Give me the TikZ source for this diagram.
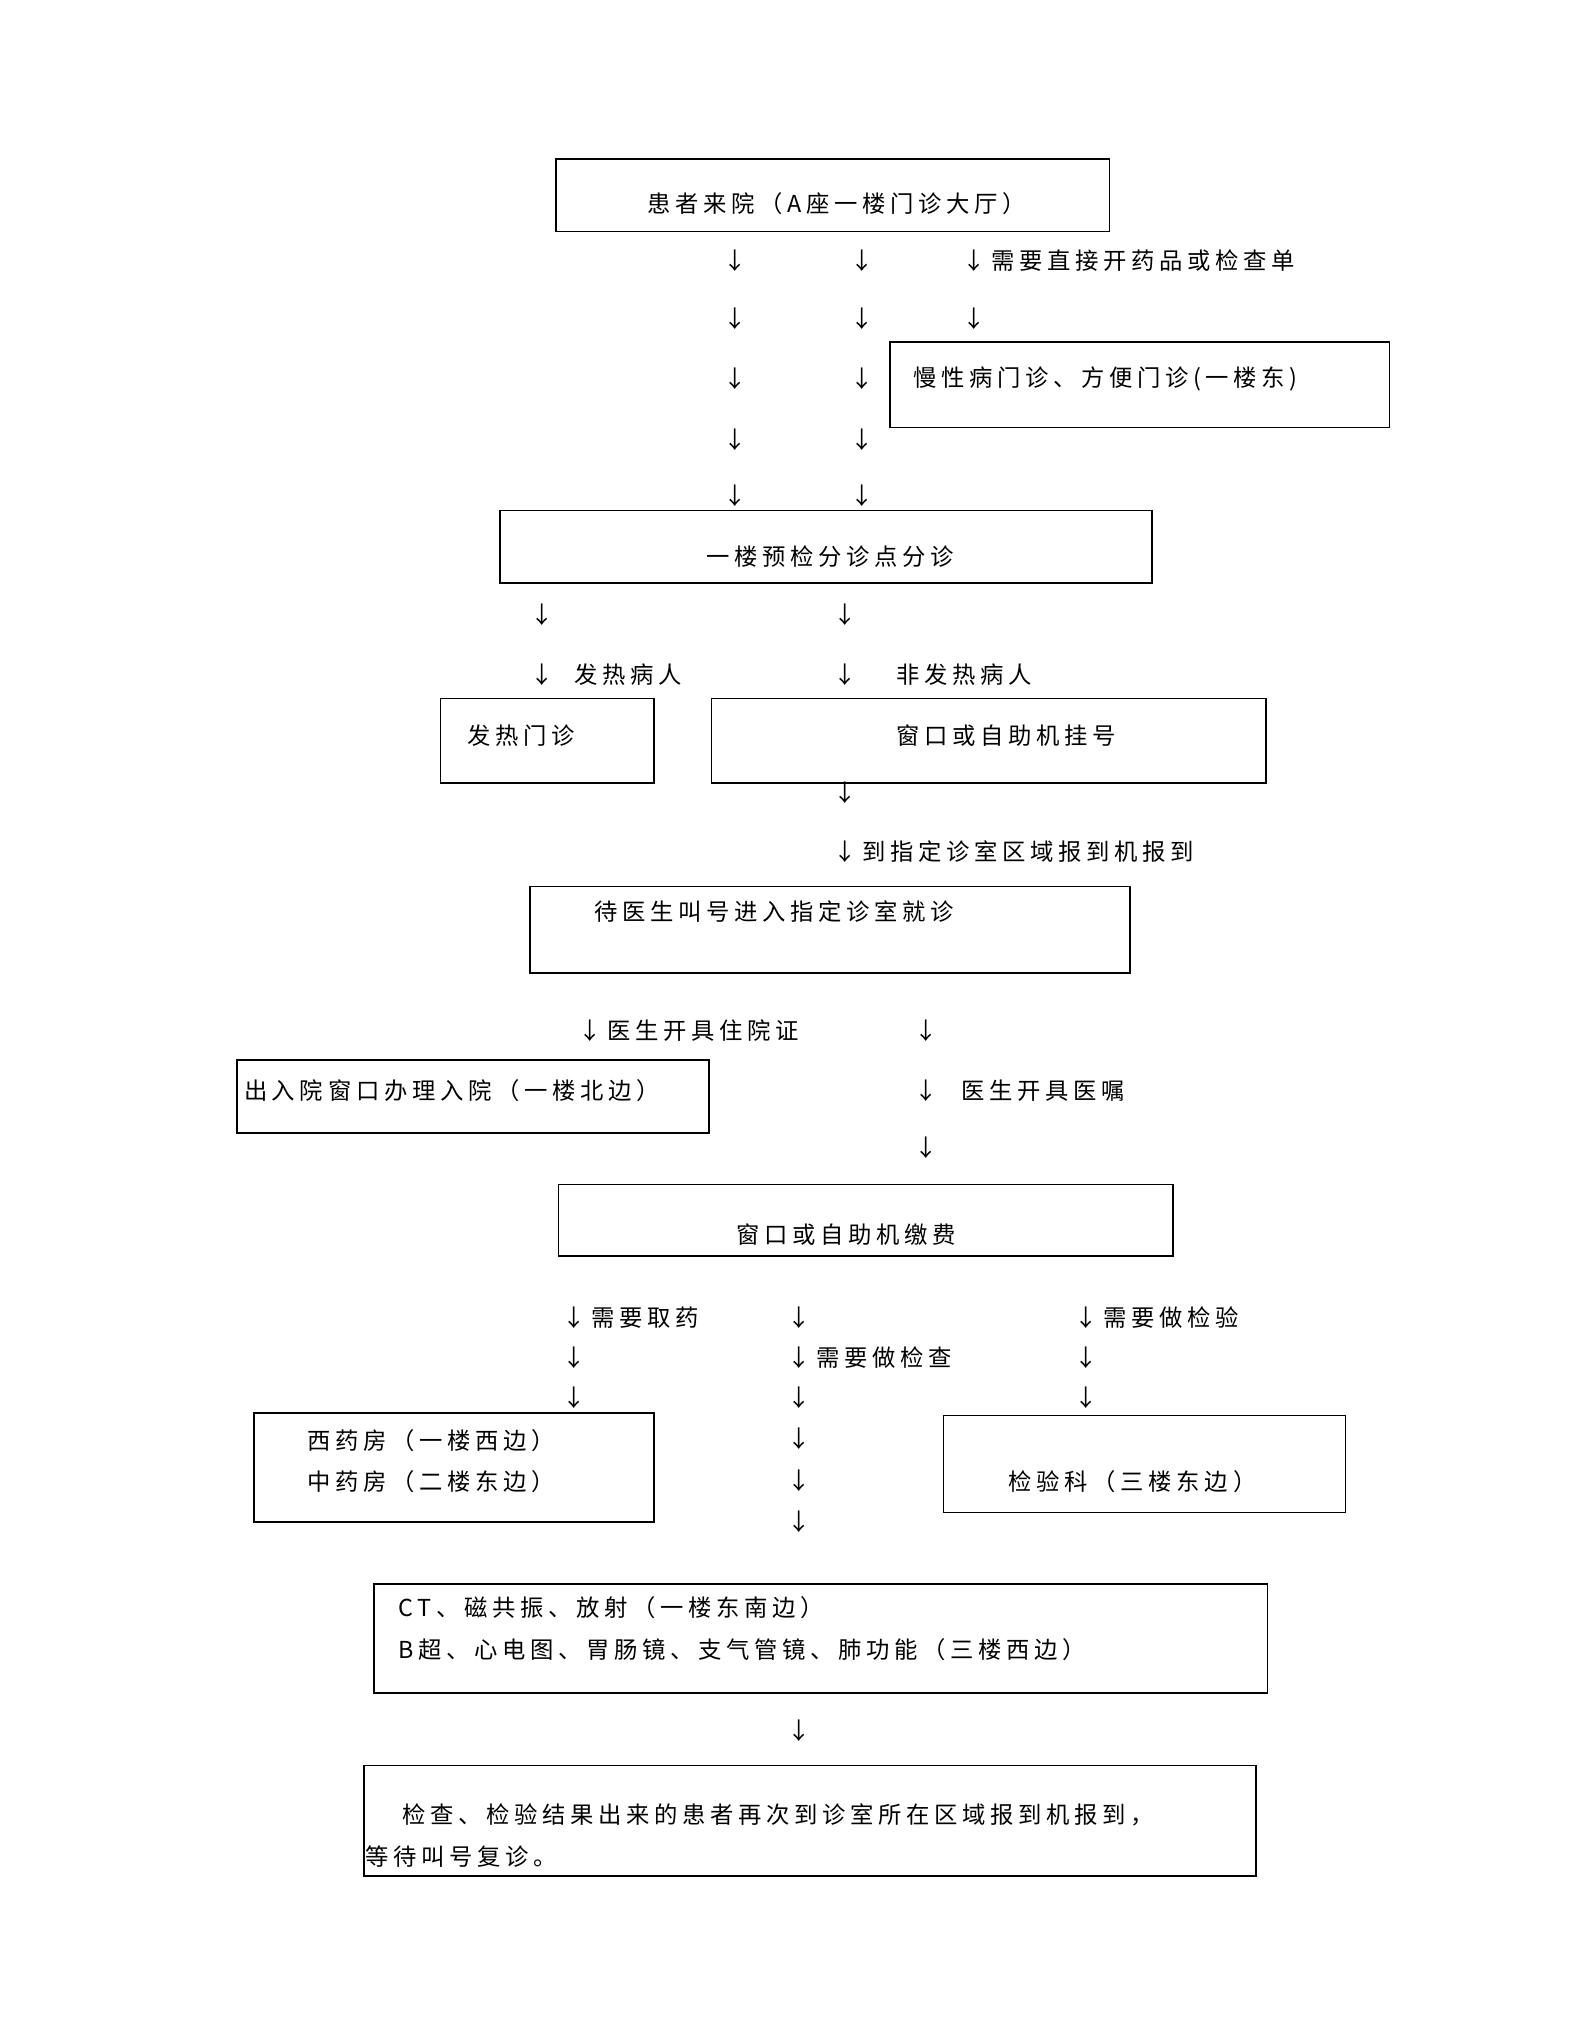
\documentclass[tikz,border=0pt]{standalone}
\usepackage{fontspec}
\newfontfamily\cjk[LetterSpace=20]{Noto Sans CJK SC}
\usetikzlibrary{positioning}
\begin{document}
\begin{tikzpicture}[x=1pt,y=-1pt]
\tikzstyle{box}=[draw,line width=1.3pt,anchor=north west,inner sep=0pt]
\tikzstyle{txt}=[font=\cjk\fontsize{18}{22}\selectfont,inner sep=0pt]
\tikzstyle{lt}=[txt,anchor=west]
\tikzstyle{dn}=[txt]
\useasboundingbox (0,0) rectangle (1224,1571.1);
% boxes
\node[box,minimum width=427pt,minimum height=56pt] (come) at (428,122) {};
\node[box,minimum width=385pt,minimum height=66pt] (slow) at (686,263) {};
\node[box,minimum width=503pt,minimum height=56pt] (triage) at (385,393) {};
\node[box,minimum width=165pt,minimum height=65pt] (fever) at (339,538) {};
\node[box,minimum width=428pt,minimum height=65pt] (reg) at (548,538) {};
\node[box,minimum width=463pt,minimum height=67pt] (wait) at (408,683) {};
\node[box,minimum width=364pt,minimum height=56pt] (admit) at (182,817) {};
\node[box,minimum width=474pt,minimum height=55pt] (pay) at (430,913) {};
\node[box,minimum width=309pt,minimum height=84pt] (drug) at (195,1089) {};
\node[box,minimum width=310pt,minimum height=75pt] (lab) at (727,1091) {};
\node[box,minimum width=689pt,minimum height=84pt] (exam) at (288,1221) {};
\node[box,minimum width=688pt,minimum height=85pt] (result) at (280,1361) {};
% texts
\node[txt] (t1) at (645,157) {患者来院（A座一楼门诊大厅）};
\node[lt] (t2) at (704,292) {慢性病门诊、方便门诊(一楼东)};
\node[txt] (t3) at (640,429) {一楼预检分诊点分诊};
\node[lt] (t4) at (360,567) {发热门诊};
\node[txt] (t5) at (776,567) {窗口或自助机挂号};
\node[lt] (t6) at (458,703) {待医生叫号进入指定诊室就诊};
\node[lt] (t7) at (188,841) {出入院窗口办理入院（一楼北边）};
\node[txt] (t8) at (653,952) {窗口或自助机缴费};
\node[lt] (t9a) at (237,1111) {西药房（一楼西边）};
\node[lt] (t9b) at (237,1143) {中药房（二楼东边）};
\node[lt] (t10) at (778,1143) {检验科（三楼东边）};
\node[lt] (t11a) at (307,1240) {CT、磁共振、放射（一楼东南边）};
\node[lt] (t11b) at (307,1272) {B超、心电图、胃肠镜、支气管镜、肺功能（三楼西边）};
\node[lt] (t12a) at (310,1400) {检查、检验结果出来的患者再次到诊室所在区域报到机报到，};
\node[lt] (t12b) at (282,1432) {等待叫号复诊。};
% arrows
\foreach \y [count=\i] in {201,246,292,339,382}{
  \node[dn] (al\i) at (567,\y) {↓};
  \node[dn] (ar\i) at (665,\y) {↓};}
\node[dn] (ad1) at (751,201) {↓};
\node[dn] (ad2) at (751,246) {↓};
\node[lt,right=4pt of ad1] (l1) {需要直接开药品或检查单};
\foreach \y [count=\i] in {474,520}{
  \node[dn] (af\i) at (418,\y) {↓};
  \node[dn] (an\i) at (652,\y) {↓};}
\node[lt,right=16pt of af2] (l2) {发热病人};
\node[lt,right=30pt of an2] (l3) {非发热病人};
\node[dn] (ag1) at (652,611) {↓};
\node[dn] (ag2) at (652,657) {↓};
\node[lt,right=4pt of ag2] (l4) {到指定诊室区域报到机报到};
\node[dn] (ah) at (455,795) {↓};
\node[lt,right=4pt of ah] (l5) {医生开具住院证};
\foreach \y [count=\i] in {795,841,885}
  \node[dn] (ao\i) at (714,\y) {↓};
\node[lt,right=18pt of ao2] (l6) {医生开具医嘱};
\foreach \y [count=\i] in {1016,1047,1078}{
  \node[dn] (ap\i) at (443,\y) {↓};
  \node[dn] (aq\i) at (838,\y) {↓};}
\foreach \y [count=\i] in {1016,1047,1078,1110,1142,1174}
  \node[dn] (as\i) at (616,\y) {↓};
\node[lt,right=4pt of ap1] (l7) {需要取药};
\node[lt,right=4pt of as2] (l8) {需要做检查};
\node[lt,right=4pt of aq1] (l9) {需要做检验};
\node[dn] (at) at (616,1335) {↓};
\end{tikzpicture}
\end{document}
